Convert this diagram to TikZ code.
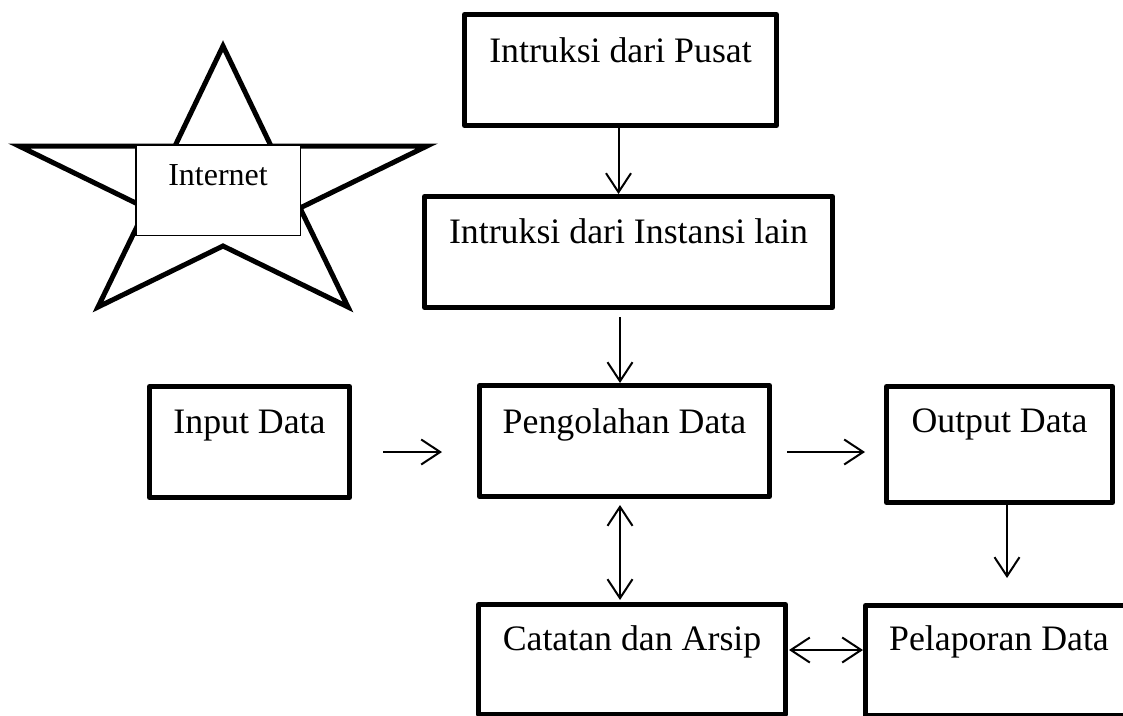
\documentclass[tikz,border=0pt]{standalone}
\usepackage{fontspec}
\setmainfont{Liberation Serif}
\usetikzlibrary{arrows.meta,calc}
\begin{document}
\begin{tikzpicture}[x=1pt,y=-1pt,
  box/.style={draw, line width=5pt, line join=round, rectangle, inner sep=0pt, outer sep=2.5pt, fill=white},
  lbl/.style={anchor=base, font=\fontsize{35.8}{40}\selectfont, inner sep=0pt},
  barb/.tip={Straight Barb[length=19pt,width=25pt]},
  conn/.style={line width=2pt, -barb},
  conn2/.style={line width=2pt, barb-barb},
]
\useasboundingbox (0,0) rectangle (1123,715);
\clip (0,0) rectangle (1123,715);
\fill[white] (0,0) rectangle (1123,715);

% star
\coordinate (sT) at (223,46);
\coordinate (sAr) at (271,146);
\coordinate (sR) at (427,146);
\coordinate (sBr) at (300,208);
\coordinate (sBR) at (348,307);
\coordinate (sC) at (223,246);
\coordinate (sBL) at (98,307);
\coordinate (sBl) at (146,208);
\coordinate (sL) at (19,146);
\coordinate (sAl) at (175,146);
\draw[line width=5pt, line join=miter, miter limit=10]
  (sT) -- (sAr) -- (sR) -- (sBr) -- (sBR) -- (sC) -- (sBL) -- (sBl) -- (sL) -- (sAl) -- cycle;
\node[draw, line width=1.5pt, fill=white, inner sep=0pt, minimum width=164.5pt, minimum height=90.5pt] (inet) at (218,190) {};
\node[anchor=base, font=\fontsize{32}{36}\selectfont, inner sep=0pt] (inettxt) at (218,185) {Internet};

% boxes
\node[box, minimum width=312pt, minimum height=111pt] (pusat) at (620.5,70) {};
\node[box, minimum width=408pt, minimum height=111pt] (instansi) at (628.5,252) {};
\node[box, minimum width=200pt, minimum height=111pt] (input) at (249.5,442) {};
\node[box, minimum width=290pt, minimum height=111pt] (proc) at (624.5,441) {};
\node[box, minimum width=226pt, minimum height=116pt] (output) at (999.5,444.5) {};
\node[box, minimum width=307pt, minimum height=110pt] (catatan) at (632,659.5) {};
\node[box, minimum width=267pt, minimum height=110pt] (lapor) at (999,660.5) {};

% labels
\node[lbl] (pusat-t) at ([yshift=-50pt]pusat.north) {Intruksi dari Pusat};
\node[lbl] (instansi-t) at ([yshift=-49pt]instansi.north) {Intruksi dari Instansi lain};
\node[lbl] (input-t) at ([yshift=-49pt]input.north) {Input Data};
\node[lbl] (proc-t) at ([yshift=-50pt]proc.north) {Pengolahan Data};
\node[lbl] (output-t) at ([yshift=-48pt]output.north) {Output Data};
\node[lbl] (catatan-t) at ([yshift=-48pt]catatan.north) {Catatan dan Arsip};
\node[lbl] (lapor-t) at ([yshift=-47pt]lapor.north) {Pelaporan Data};

% connectors
\draw[conn] ([xshift=-2pt]pusat.south) -- ([xshift=-2pt]pusat.south |- instansi.north);
\draw[conn, shorten <=7pt] ([xshift=-4.5pt]proc.north |- instansi.south) -- ([xshift=-4.5pt]proc.north);
\draw[conn, shorten <=31pt, shorten >=35pt] ([yshift=-10pt]input.east) -- ([yshift=-10pt]input.east -| proc.west);
\draw[conn, shorten <=15pt, shorten >=19pt] ([yshift=-11pt]proc.east) -- ([yshift=-11pt]proc.east -| output.west);
\draw[conn2, shorten <=6pt, shorten >=2pt] ([xshift=-4.5pt]proc.south) -- ([xshift=-4.5pt]proc.south |- catatan.north);
\draw[conn2, shorten <=1pt] ([yshift=9.5pt]catatan.east) -- ([yshift=9.5pt]catatan.east -| lapor.west);
\draw[conn, shorten >=25pt] ([xshift=7.5pt]output.south) -- ([xshift=7.5pt]output.south |- lapor.north);
\end{tikzpicture}
\end{document}
